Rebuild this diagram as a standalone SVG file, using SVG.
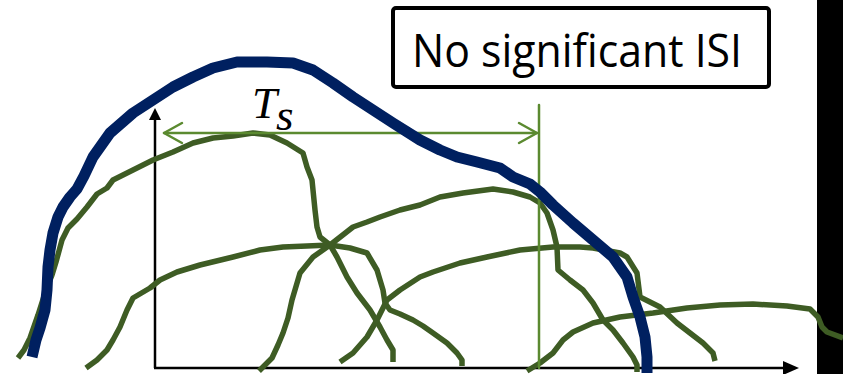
<svg xmlns="http://www.w3.org/2000/svg" width="843" height="374" viewBox="0 0 843 374">
<defs>
<style>
.gc{fill:none;stroke:#3E5C24;stroke-width:5.5;stroke-linejoin:round;stroke-linecap:butt}
.bc{fill:none;stroke:#002060;stroke-width:11;stroke-linejoin:round;stroke-linecap:butt}
.ax{fill:none;stroke:#000;stroke-width:2.5}
.lg{fill:none;stroke:#5B8A30;stroke-width:2.5;stroke-linecap:round;stroke-linejoin:round}
.lbl{font-family:"Open Sans","Liberation Sans",Arial,sans-serif;fill:#000}
.math{font-family:"Liberation Serif","Times New Roman",serif;font-style:italic;fill:#000}
</style>
</defs>
<rect width="843" height="374" fill="#fff"/>
<rect id="side-bar" x="817" y="0" width="26" height="374" fill="#000"/>
<g id="axes">
<line class="ax" x1="155" y1="118" x2="155" y2="368"/>
<polygon points="155,108 149,120 161,120" fill="#000"/>
<line class="ax" x1="154" y1="368" x2="786" y2="368"/>
<polygon points="799,368 783,361 783,375" fill="#000"/>
</g>
<g id="pulses">
<polyline id="pulse-a" class="gc" points="18,358 24,350 30,338 38,315 46,290 52,275 56,262 62,240 68,228 77,219 87,207 97,194 107,188 113,180 133,170 153,160 173,152 193,143 213,138 233,136 253,133 270,135 287,143 303,153 307,167 312,180 313,190 315,210 317,227 320,237 330,245 337,257 347,277 357,293 370,310 380,327 387,340 393,350 393,362"/>
<polyline id="pulse-b" class="gc" points="86,368 97,360 107,350 113,340 120,327 127,310 133,298 150,288 160,280 177,272 200,265 233,257 260,250 283,247 307,246 330,245 350,248 367,253 377,270 383,290 385,303 390,310 400,314 413,320 423,326 433,333 447,343 457,353 462,360 462,366"/>
<polyline id="pulse-c" class="gc" points="259,371 266,364 272,358 278,345 283,333 288,318 292,300 300,273 313,257 330,245 353,227 367,222 380,217 400,210 420,205 440,197 463,193 493,189 513,192 530,197 540,203 547,213 553,230 557,247 558,270 570,280 583,290 593,303 603,320 613,330 623,343 633,357 637,365 637,372"/>
<polyline id="pulse-d" class="gc" points="340,362 353,353 367,337 377,320 387,300 400,290 420,277 433,272 460,263 487,257 520,250 553,247 580,247 593,248 620,253 627,257 637,273 640,297 660,307 677,323 690,333 703,343 713,353 715,361"/>
<polyline id="pulse-e" class="gc" points="527,371 540,363 553,353 563,340 573,332 593,323 620,317 653,313 687,308 720,305 753,304 787,306 810,309 818,317 822,327 827,332 843,338"/>
</g>
<g id="ts-marker">
<line class="lg" x1="539" y1="105" x2="539" y2="368" stroke-linecap="butt"/>
<line class="lg" x1="164" y1="133" x2="537" y2="133"/>
<polyline class="lg" points="182,123 164,133 182,143"/>
<polyline class="lg" points="519,123 537,133 519,143"/>
</g>
<g id="envelope">
<polyline class="bc" points="32,357 36,340 40,328 45,310 47,290 48,267 50,250 53,233 58,217 63,207 70,197 77,189 84,176 93,157 110,133 133,113 153,100 173,87 193,77 213,68 237,62 267,62 293,63 313,70 333,83 353,97 373,110 393,123 420,140 440,150 457,157 477,162 500,168 513,177 530,184 540,192 553,205 573,223 593,240 613,257 627,277 633,297 640,317 645,337 647,357 647,373"/>
</g>
<g id="ts-label">
<text class="math" x="252" y="118" font-size="45">T</text>
<text class="math" x="276" y="130" font-size="45">s</text>
</g>
<g id="isi-box">
<rect x="393" y="8" width="376" height="79" rx="3" fill="#fff" stroke="#000" stroke-width="4"/>
<text class="lbl" x="412" y="67" font-size="46" textLength="330" lengthAdjust="spacingAndGlyphs">No significant ISI</text>
</g>
</svg>
